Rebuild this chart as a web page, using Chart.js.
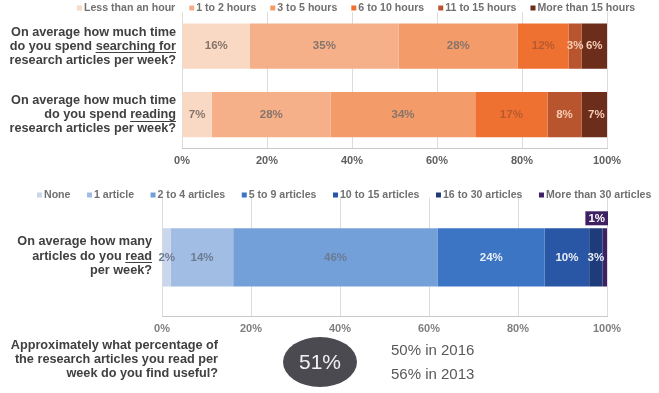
<!DOCTYPE html>
<html>
<head>
<meta charset="utf-8">
<script src="https://cdn.jsdelivr.net/npm/chart.js@4"></script>
<style>
  html, body { margin: 0; padding: 0; background: #fff; }
  body { width: 659px; height: 393px; position: relative; overflow: hidden; font-family: "Liberation Sans", Arial, sans-serif; }
  .abs { position: absolute; }
  #topWrap { left: 0; top: 0; width: 659px; height: 175px; }
  #botWrap { left: 0; top: 175px; width: 659px; height: 218px; }
  #q4 { left: 0; top: 339px; width: 218px; text-align: right; font-weight: bold; font-size: 12.7px; line-height: 13.8px; color: #404040; }
  #ellipse { left: 283px; top: 337px; width: 74px; height: 50px; border-radius: 50%; background: #4a4a50; color: #f2f2f2; font-size: 21px; line-height: 50px; text-align: center; }
  .past { left: 391px; font-size: 15px; color: #595959; line-height: 18px; }
</style>
</head>
<body>
<div id="topWrap" class="abs"><canvas id="topChart" width="659" height="175"></canvas></div>
<div id="botWrap" class="abs"><canvas id="botChart" width="659" height="218"></canvas></div>
<div id="q4" class="abs"></div>
<div id="ellipse" class="abs"></div>
<div id="past1" class="abs past" style="top:341px"></div>
<div id="past2" class="abs past" style="top:365px"></div>
<script>
// ---------- DATA ----------
const timeQuestions = [
  ['On average how much time', 'do you spend _searching for_', 'research articles per week?'],
  ['On average how much time', 'do you spend _reading_', 'research articles per week?']
];
const timeBands = ['Less than an hour', '1 to 2 hours', '3 to 5 hours', '6 to 10 hours', '11 to 15 hours', 'More than 15 hours'];
const searchingValues = [16, 35, 28, 12, 3, 6];
const readingValues = [7, 28, 34, 17, 8, 7];

const articleQuestion = [['On average how many', 'articles do you _read_', 'per week?']];
const articleBands = ['None', '1 article', '2 to 4 articles', '5 to 9 articles', '10 to 15 articles', '16 to 30 articles', 'More than 30 articles'];
const articleValues = [2, 14, 46, 24, 10, 3, 1];

const percentTicks = [0, 20, 40, 60, 80, 100];

const usefulQuestion = ['Approximately what percentage of', 'the research articles you read per', 'week do you find useful?'];
const usefulValue = 51;
const usefulHistory = [['2016', 50], ['2013', 56]];

// ---------- STYLES ----------
const timeColors = ['#fad9c4', '#f5b08a', '#f39b69', '#ee7131', '#b9552e', '#6c2d1b'];
const timeLabelColors = ['#86746a', '#86746a', '#86746a', '#b85a2d', '#f6cdb3', '#f6cdb3'];
const articleColors = ['#c9d6ec', '#a2bde3', '#74a0d9', '#3c75c3', '#2957a5', '#1f3c7a', '#3e2163'];
const articleLabelColors = ['#6b7b93', '#6b7b93', '#6b7b93', '#e8eef8', '#e8eef8', '#e8eef8', '#ffffff'];
const FONT = '"Liberation Sans", Arial, sans-serif';

// ---------- PLUGINS ----------
const questionPlugin = {
  id: 'questions',
  afterDraw(chart, args, opts) {
    const ctx = chart.ctx;
    const y = chart.scales.y;
    ctx.save();
    ctx.font = 'bold 12.7px ' + FONT;
    ctx.fillStyle = '#404040';
    ctx.strokeStyle = '#404040';
    ctx.lineWidth = 1;
    ctx.textBaseline = 'middle';
    ctx.textAlign = 'left';
    opts.lines.forEach((lines, i) => {
      const cy = y.getPixelForValue(i);
      lines.forEach((line, k) => {
        const ly = cy + (k - (lines.length - 1) / 2) * opts.lineHeight + opts.dy;
        const parts = line.split('_');
        const plain = parts.join('');
        let x = opts.right - ctx.measureText(plain).width;
        parts.forEach((p, j) => {
          const w = ctx.measureText(p).width;
          ctx.fillText(p, x, ly);
          if (j % 2 === 1) {
            ctx.beginPath();
            ctx.moveTo(x, Math.round(ly + 6) + 0.5);
            ctx.lineTo(x + w, Math.round(ly + 6) + 0.5);
            ctx.stroke();
          }
          x += w;
        });
      });
    });
    ctx.restore();
  }
};

const legendPlugin = {
  id: 'customLegend',
  afterDraw(chart, args, opts) {
    const ctx = chart.ctx;
    ctx.save();
    ctx.font = 'bold 10.6px ' + FONT;
    ctx.textBaseline = 'middle';
    ctx.textAlign = 'left';
    let x = opts.x;
    chart.data.datasets.forEach(ds => {
      ctx.fillStyle = ds.backgroundColor;
      ctx.fillRect(x, opts.y - 2.5, 5, 5);
      x += 7;
      ctx.fillStyle = '#707070';
      ctx.fillText(ds.label, x, opts.y);
      x += ctx.measureText(ds.label).width + opts.gap;
    });
    ctx.restore();
  }
};

const valuePlugin = {
  id: 'values',
  afterDatasetsDraw(chart, args, opts) {
    const ctx = chart.ctx;
    ctx.save();
    ctx.font = 'bold 11.5px ' + FONT;
    ctx.textAlign = 'center';
    ctx.textBaseline = 'middle';
    chart.data.datasets.forEach((ds, di) => {
      const meta = chart.getDatasetMeta(di);
      meta.data.forEach((el, i) => {
        const v = ds.data[i];
        const txt = v + '%';
        const cx = (el.x + el.base) / 2;
        if (opts.boxed && opts.boxed.includes(di)) {
          const w = ctx.measureText(txt).width + 6;
          const bx = Math.min(cx - w / 2, chart.chartArea.right - w + 1);
          const by = el.y - el.height / 2 - 17;
          ctx.fillStyle = ds.backgroundColor;
          ctx.fillRect(bx, by, w, 14);
          ctx.fillStyle = opts.colors[di];
          ctx.fillText(txt, bx + w / 2, by + 7.5);
        } else {
          ctx.fillStyle = opts.colors[di];
          ctx.fillText(txt, cx, el.y);
        }
      });
    });
    ctx.restore();
  }
};

function xScale(color) {
  return {
    type: 'linear', min: 0, max: 100, stacked: true,
    afterBuildTicks: s => { s.ticks = percentTicks.map(v => ({ value: v })); },
    ticks: { callback: v => v + '%', font: { family: FONT, size: 11, weight: 'bold' }, color: color, padding: 6 },
    grid: { color: '#dcdcdc', drawTicks: false, lineWidth: 1 },
    border: { color: '#c8c8c8', width: 1 }
  };
}

// ---------- TOP CHART ----------
new Chart(document.getElementById('topChart'), {
  type: 'bar',
  data: {
    labels: ['searching', 'reading'],
    datasets: timeBands.map((b, i) => ({
      label: b,
      data: [searchingValues[i], readingValues[i]],
      backgroundColor: timeColors[i],
      borderWidth: 0,
      barPercentage: 1,
      categoryPercentage: 0.662,
      clip: 0
    }))
  },
  options: {
    indexAxis: 'y',
    responsive: false,
    animation: false,
    layout: { padding: { left: 182, right: 52, top: 12, bottom: 1 } },
    scales: {
      x: xScale('#5f5f5f'),
      y: { type: 'category', stacked: true, display: false }
    },
    plugins: {
      legend: { display: false },
      tooltip: { enabled: false },
      customLegend: { x: 77, y: 8, gap: 14 },
      questions: { lines: timeQuestions, right: 176, lineHeight: 14, dy: 0 },
      values: { colors: timeLabelColors }
    }
  },
  plugins: [legendPlugin, questionPlugin, valuePlugin]
});

// ---------- BOTTOM CHART ----------
new Chart(document.getElementById('botChart'), {
  type: 'bar',
  data: {
    labels: ['read'],
    datasets: articleBands.map((b, i) => ({
      label: b,
      data: [articleValues[i]],
      backgroundColor: articleColors[i],
      borderWidth: 0,
      barPercentage: 1,
      categoryPercentage: 0.49,
      clip: 0
    }))
  },
  options: {
    indexAxis: 'y',
    responsive: false,
    animation: false,
    layout: { padding: { left: 162, right: 52, top: 23, bottom: 51 } },
    scales: {
      x: xScale('#7f7f7f'),
      y: { type: 'category', stacked: true, display: false }
    },
    plugins: {
      legend: { display: false },
      tooltip: { enabled: false },
      customLegend: { x: 37, y: 20, gap: 16.5 },
      questions: { lines: articleQuestion, right: 152, lineHeight: 14.5, dy: -1 },
      values: { colors: articleLabelColors, boxed: [6] }
    }
  },
  plugins: [legendPlugin, questionPlugin, valuePlugin]
});

// ---------- FOOTER TEXT ----------
document.getElementById('q4').innerHTML = usefulQuestion.join('<br>');
document.getElementById('ellipse').textContent = usefulValue + '%';
document.getElementById('past1').textContent = usefulHistory[0][1] + '% in ' + usefulHistory[0][0];
document.getElementById('past2').textContent = usefulHistory[1][1] + '% in ' + usefulHistory[1][0];
</script>
</body>
</html>
